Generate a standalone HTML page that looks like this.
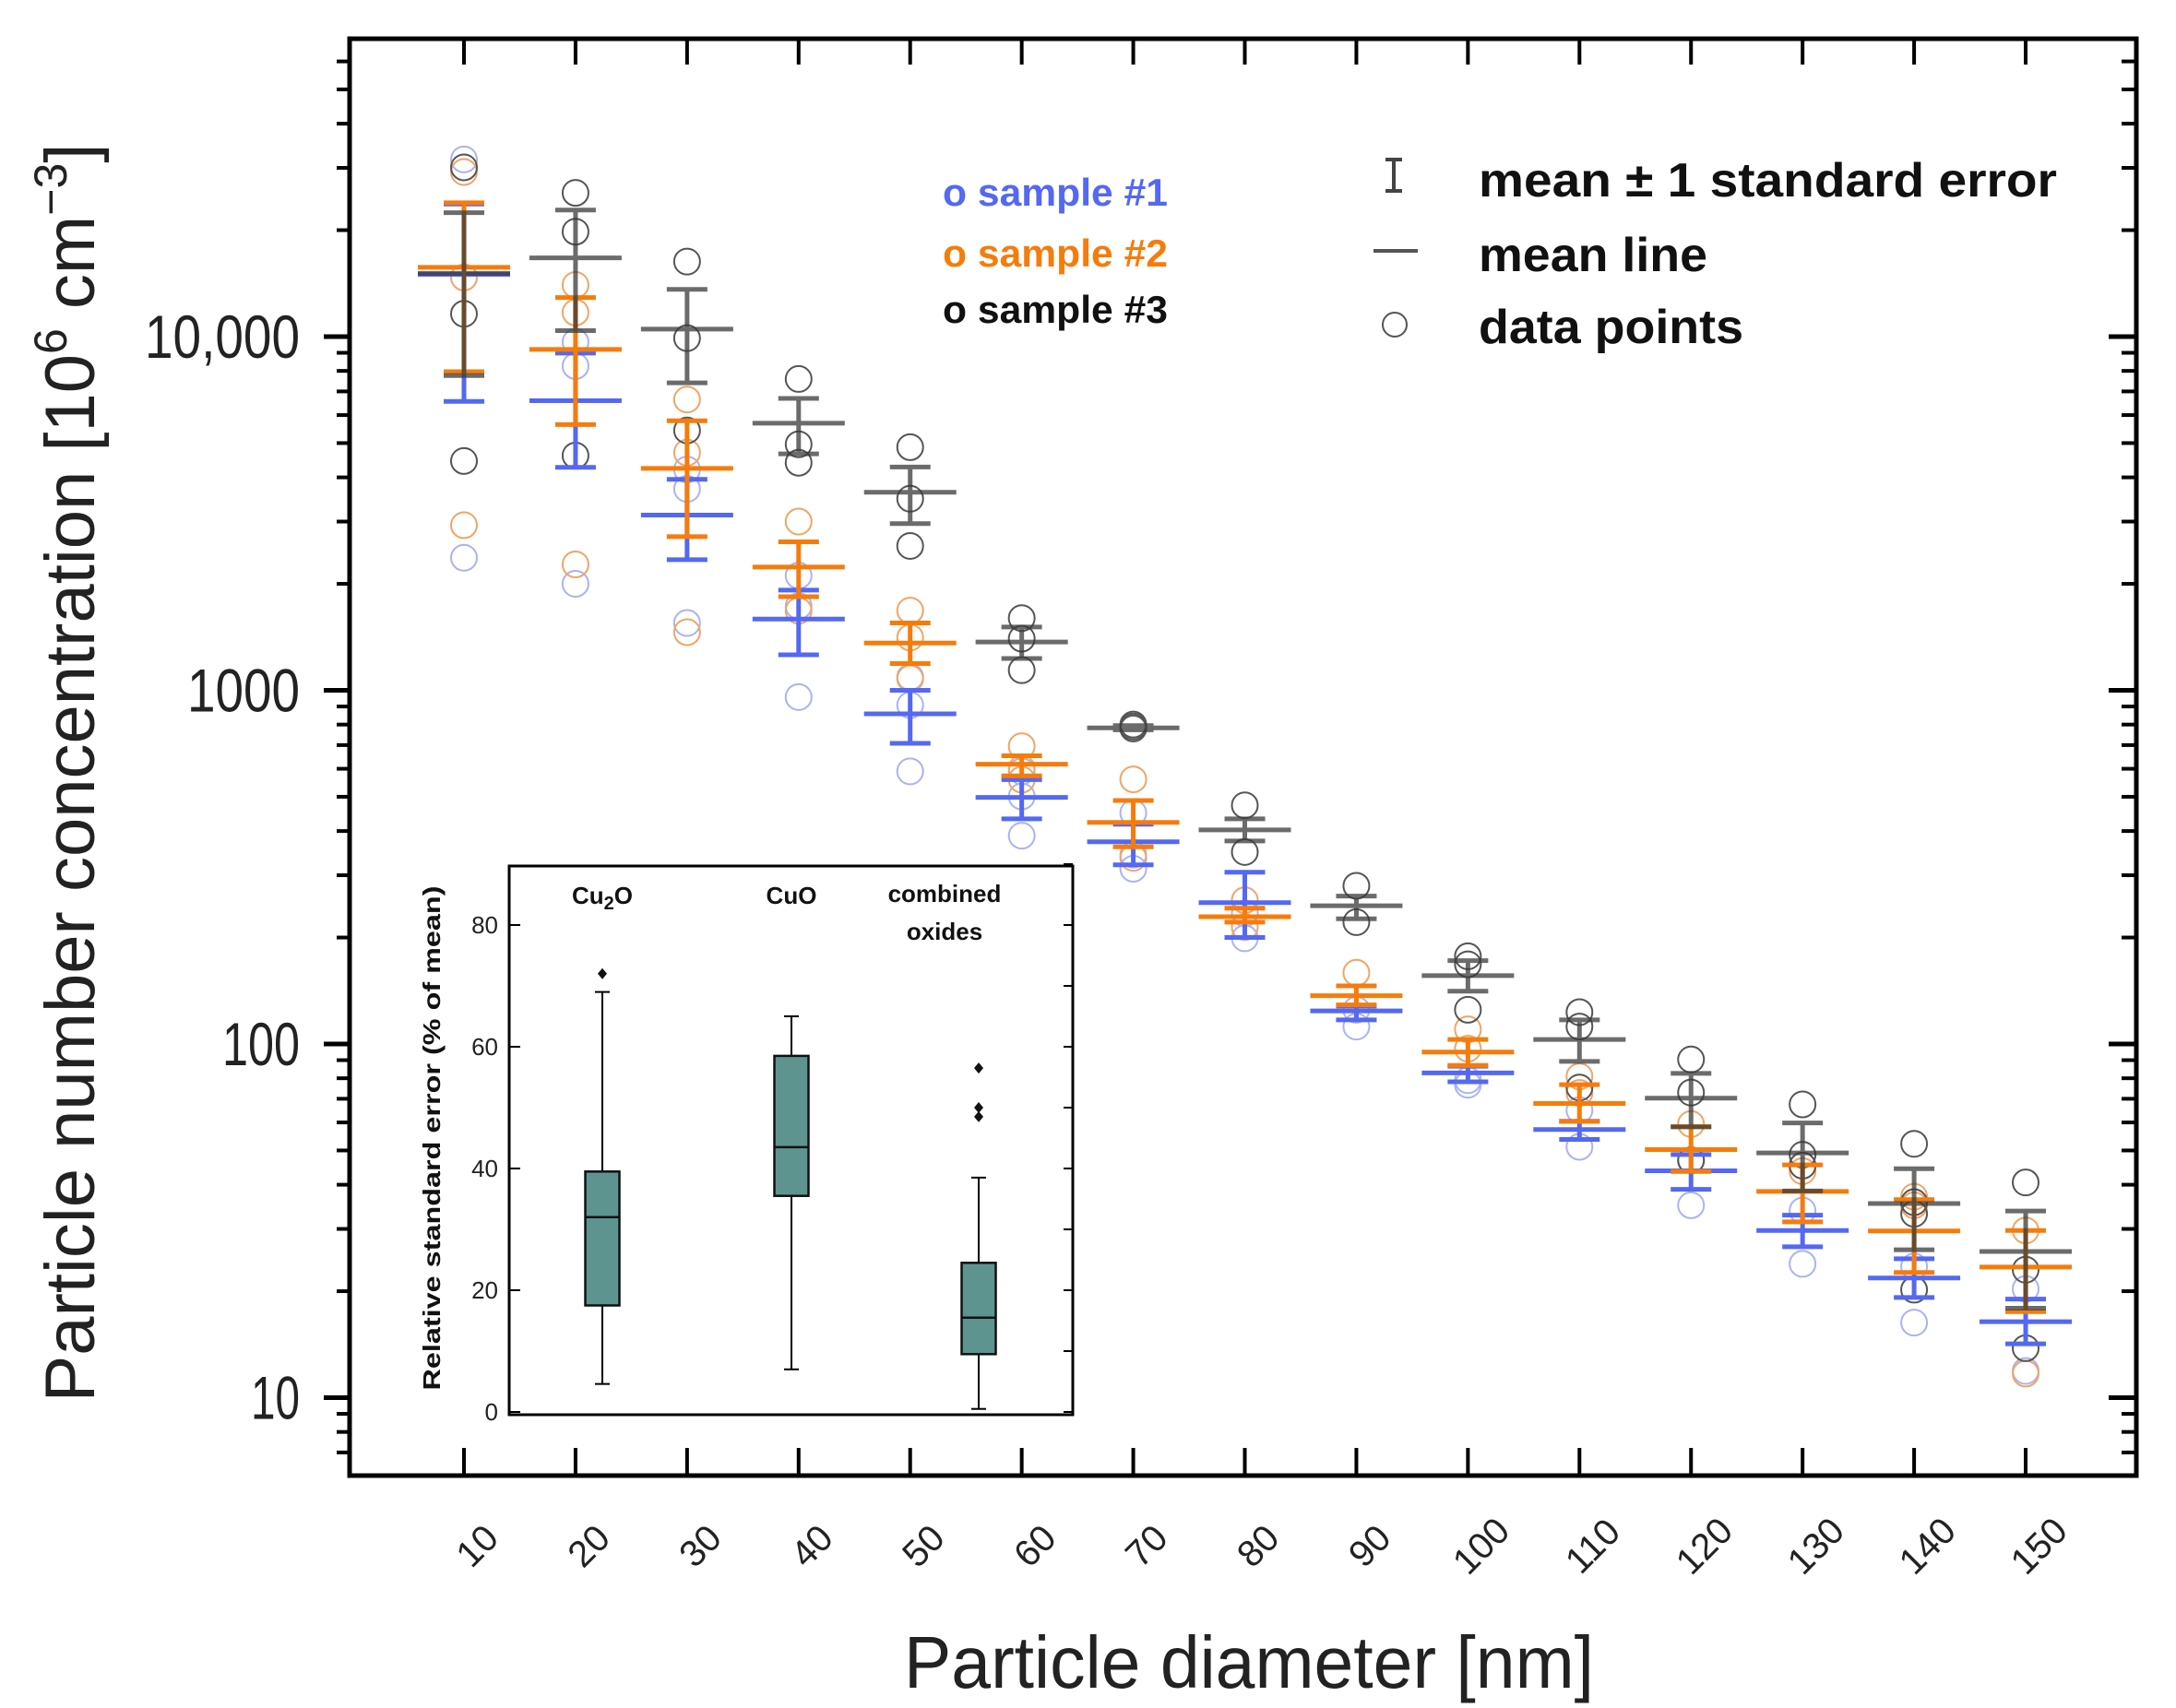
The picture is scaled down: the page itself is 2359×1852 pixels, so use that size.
<!DOCTYPE html>
<html><head><meta charset="utf-8"><style>
html,body{margin:0;padding:0;background:#fff;}
svg{display:block;}
</style></head><body>
<svg id="chart" width="2359" height="1852" viewBox="0 0 2359 1852" xmlns="http://www.w3.org/2000/svg" font-family="'Liberation Sans', sans-serif">
<g id="grid"></g>
<g id="marks"></g>
<g id="axes"></g>
<g id="inset"></g>
<g id="legend"></g>
</svg>
<script>
// ---------- main chart data ----------
const diameters = [10,20,30,40,50,60,70,80,90,100,110,120,130,140,150];
const s1Mean = [15000,6590,3130,1590,858,498,373,251,124,82.8,57.3,43.8,29.7,21.8,16.4];
const s1Hi   = [23700,8980,3950,1920,1000,559,418,306,128,86.5,60.5,48.7,32.8,24.7,19.0];
const s1Lo   = [6560,4270,2340,1260,708,433,321,200,117,78.2,53.7,38.8,26.7,19.2,14.2];
const s1Pts  = [[31700,2370],[9650,8260,2000],[4210,3710,1550],[2110,1730,957],[1090,908,590],[590,501,388],[343,313,450],[234,199],[125,112],[79,76.7],[65,51.2],[46.9,35.0],[33.8,23.9],[23.5,16.3],[20.3,11.9]];
const s2Mean = [15700,9200,4240,2230,1360,618,423,229,137,94.9,67.9,50.3,38.3,29.6,23.4];
const s2Hi   = [23900,12900,5780,2630,1550,653,488,242,146,103,76.7,58.4,45.5,36.3,29.7];
const s2Lo   = [7960,5640,2720,1840,1190,573,361,221,129,87,60.4,43.6,31.4,22.6,17.5];
const s2Pts  = [[29200,2930,14700],[14000,11700,2270],[6640,4700,1460],[3000,1680],[1680,1410,1080],[695,601,559],[560,336],[255,214],[159],[110,97],[81,72.7],[59.4,46.9],[45.3,43.7],[37.0,35.0],[29.7,11.7]];
const s3Mean = [15100,16700,10500,5690,3630,1370,783,403,246,156,103,70.3,49.2,35.4,25.9];
const s3Hi   = [22400,22800,13600,6690,4280,1510,795,433,262,172,117,82.6,59.8,44.4,33.7];
const s3Lo   = [7760,10400,7400,4660,2960,1230,773,375,226,141,89.3,58.3,38.4,26.2,17.9];
const s3Pts  = [[30100,11600,4450],[25500,19800,4610],[16300,9900,5430],[7590,4960,4400],[4870,3480,2560],[1600,1400,1140],[780,790,800],[473,349],[280,221],[177,168,125],[123,112,75.3],[90.4,72.9,46.9],[67.5,48.6,45.3],[52.2,35.7,33.1,20.2],[40.6,23.0,13.8]];
const yTickVals = [10,100,1000,10000];
const yTickLabels = ["10","100","1000","10,000"];

// ---------- inset data ----------
const insetCats = ["Cu2O","CuO","combined oxides"];
const boxWhiskLo = [4.6,7,0.5];
const boxQ1 = [17.5,35.5,9.5];
const boxMed = [32,43.5,15.5];
const boxQ3 = [39.5,58.5,24.5];
const boxWhiskHi = [69,65,38.5];
const boxOutliers = [[72],[],[56.5,50,48.5]];
const insetTicks = [0,20,40,60,80];

const NS = "http://www.w3.org/2000/svg";
function mk(tag, attrs, parent){
  const e = document.createElementNS(NS, tag);
  for (const k in attrs) e.setAttribute(k, attrs[k]);
  parent.appendChild(e);
  return e;
}
const L=379, R=2316, T=42, B=1600;
const X0=503, DX=120.93;
function xs(d){ return X0 + (d-10)/10*DX; }
const Y10000=365, DEC=383.5;
function ys(v){ return Y10000 - (Math.log10(v)-4)*DEC; }

const marks = document.getElementById('marks');
const axes = document.getElementById('axes');

const series = [
  {name:'sample-1', mean:s1Mean, hi:s1Hi, lo:s1Lo, pts:s1Pts, col:'#5468f2', pc:'#aab3f3', op:1},
  {name:'sample-2', mean:s2Mean, hi:s2Hi, lo:s2Lo, pts:s2Pts, col:'#f57c0c', pc:'#f0a565', op:1},
  {name:'sample-3', mean:s3Mean, hi:s3Hi, lo:s3Lo, pts:s3Pts, col:'#3a3a3a', pc:'#555555', op:0.75}
];
series.forEach(s=>{
  const g = mk('g',{},marks);
  
  
  s.pts.forEach((arr,i)=>{
    arr.forEach(v=>{
      const c = mk('circle',{cx:xs(diameters[i]),cy:ys(v),r:14,fill:'none',stroke:s.pc,'stroke-width':2},g);
      
      
    });
  });
});
series.forEach(s=>{
  const g = mk('g',{opacity:s.op},marks);
  
  
  diameters.forEach((d,i)=>{
    const x = xs(d);
    const bar = mk('path',{d:`M${x},${ys(s.hi[i])}V${ys(s.lo[i])}M${x-22},${ys(s.hi[i])}H${x+22}M${x-22},${ys(s.lo[i])}H${x+22}`,stroke:s.col,'stroke-width':5,fill:'none'},g);
    
    
    const ml = mk('line',{x1:x-50,x2:x+50,y1:ys(s.mean[i]),y2:ys(s.mean[i]),stroke:s.col,'stroke-width':5},g);
    
    
  });
});

const frame = mk('rect',{x:L,y:T,width:R-L,height:B-T,fill:'none',stroke:'#000','stroke-width':5},axes);


diameters.forEach(d=>{
  const x = xs(d);
  mk('line',{x1:x,x2:x,y1:T,y2:T+28,stroke:'#000','stroke-width':4},axes);
  mk('line',{x1:x,x2:x,y1:B,y2:B-30,stroke:'#000','stroke-width':4},axes);
  const cy = 1676;
  const t = mk('text',{x:x+14,y:cy+14,'font-size':40,fill:'#222','text-anchor':'middle',transform:`rotate(-45 ${x+14} ${cy})`},axes);
  t.textContent = d;
  
  
});
for (let dec=0; dec<=4; dec++){
  for (let m=1; m<=9; m++){
    const v = m*Math.pow(10,dec);
    const y = ys(v);
    if (y < T+2 || y > B-2) continue;
    const major = m===1;
    mk('line',{x1:L-(major?28:14),x2:L,y1:y,y2:y,stroke:'#000','stroke-width':major?5:4},axes);
    mk('line',{x1:R,x2:R-(major?30:16),y1:y,y2:y,stroke:'#000','stroke-width':major?5:4},axes);
  }
}
const yLabW = {"10":53,"100":84,"1000":122,"10,000":168};
yTickVals.forEach((v,i)=>{
  const t = mk('text',{x:325,y:ys(v)+23,'font-size':66,fill:'#222','text-anchor':'end',textLength:yLabW[yTickLabels[i]],lengthAdjust:'spacingAndGlyphs'},axes);
  t.textContent = yTickLabels[i];
  
  
});
</script>
<script>
(function(){
const axes = document.getElementById('axes');
const NS="http://www.w3.org/2000/svg";
const xt = document.createElementNS(NS,'text');
xt.setAttribute('x',1354); xt.setAttribute('y',1830);
xt.setAttribute('font-size',80); xt.setAttribute('fill','#222'); xt.setAttribute('text-anchor','middle');
xt.setAttribute('textLength',748); xt.setAttribute('lengthAdjust','spacingAndGlyphs');
xt.textContent='Particle diameter [nm]';


axes.appendChild(xt);
const yt = document.createElementNS(NS,'text');
yt.setAttribute('transform','translate(102 838) rotate(-90)');
yt.setAttribute('font-size',76); yt.setAttribute('fill','#222'); yt.setAttribute('text-anchor','middle');
yt.innerHTML='Particle number concentration [10<tspan dy="-30" font-size="50">6</tspan><tspan dy="30"> cm</tspan><tspan dy="-30" font-size="50">−3</tspan><tspan dy="30">]</tspan>';


axes.appendChild(yt);
})();

(function(){
const g = document.getElementById('inset');
const NS="http://www.w3.org/2000/svg";
function mk(tag, attrs, parent){const e=document.createElementNS(NS,tag);for(const k in attrs)e.setAttribute(k,attrs[k]);parent.appendChild(e);return e;}
const IL=552, IR=1163, IT=939, IB=1534;
function iy(v){ return 1531 - v*6.6; }
const centers=[653,858,1061];
const bg = mk('rect',{x:IL,y:IT,width:IR-IL,height:IB-IT,fill:'#fff',stroke:'#000','stroke-width':3},g);


for(let v=0; v<=90; v+=10){
  const y=iy(v);
  if(v%20===0){ mk('line',{x1:IL,x2:IL+12,y1:y,y2:y,stroke:'#000','stroke-width':2},g); }
  mk('line',{x1:IR,x2:IR-10,y1:y,y2:y,stroke:'#000','stroke-width':2},g);
}
insetTicks.forEach(v=>{
  const t=mk('text',{x:540,y:iy(v)+9,'font-size':26,fill:'#222','text-anchor':'end'},g);
  t.textContent=v;
  
  
});
const yl=mk('text',{transform:'translate(477 1234) rotate(-90)','font-size':26,'font-weight':'bold',fill:'#111','text-anchor':'middle',textLength:547,lengthAdjust:'spacingAndGlyphs'},g);
yl.textContent='Relative standard error (% of mean)';


insetCats.forEach((c,i)=>{
  const x=centers[i], w=37;
  const bx=mk('g',{},g);
  
  
  mk('line',{x1:x,x2:x,y1:iy(boxWhiskLo[i]),y2:iy(boxWhiskHi[i]),stroke:'#000','stroke-width':2},bx);
  mk('line',{x1:x-8,x2:x+8,y1:iy(boxWhiskLo[i]),y2:iy(boxWhiskLo[i]),stroke:'#000','stroke-width':2},bx);
  mk('line',{x1:x-8,x2:x+8,y1:iy(boxWhiskHi[i]),y2:iy(boxWhiskHi[i]),stroke:'#000','stroke-width':2},bx);
  mk('rect',{x:x-w/2,y:iy(boxQ3[i]),width:w,height:iy(boxQ1[i])-iy(boxQ3[i]),fill:'#5e9490',stroke:'#111','stroke-width':2.5},bx);
  mk('line',{x1:x-w/2,x2:x+w/2,y1:iy(boxMed[i]),y2:iy(boxMed[i]),stroke:'#111','stroke-width':2.5},bx);
  boxOutliers[i].forEach(v=>{
    const o=mk('path',{d:`M${x},${iy(v)-6}L${x+5},${iy(v)}L${x},${iy(v)+6}L${x-5},${iy(v)}Z`,fill:'#111'},bx);
    
    
  });
});
const h1=mk('text',{x:653,y:980,'font-size':26,'font-weight':'bold',fill:'#111','text-anchor':'middle'},g);
h1.innerHTML='Cu<tspan dy="6" font-size="20">2</tspan><tspan dy="-6">O</tspan>';


const h2=mk('text',{x:858,y:980,'font-size':26,'font-weight':'bold',fill:'#111','text-anchor':'middle'},g);
h2.textContent='CuO';


const h3=mk('text',{x:1024,y:978,'font-size':26,'font-weight':'bold',fill:'#111','text-anchor':'middle'},g);
h3.textContent='combined';


const h4=mk('text',{x:1024,y:1019,'font-size':26,'font-weight':'bold',fill:'#111','text-anchor':'middle'},g);
h4.textContent='oxides';


})();

(function(){
const g=document.getElementById('legend');
const NS="http://www.w3.org/2000/svg";
function mk(tag, attrs, parent){const e=document.createElementNS(NS,tag);for(const k in attrs)e.setAttribute(k,attrs[k]);parent.appendChild(e);return e;}
const items=[['o sample #1','#5468f2',223],['o sample #2','#f57c0c',289],['o sample #3','#111',350]];
items.forEach((it,i)=>{
  const t=mk('text',{x:1022,y:it[2],'font-size':42,'font-weight':'bold',fill:it[1],textLength:244,lengthAdjust:'spacingAndGlyphs'},g);
  t.textContent=it[0];
  
  
});
const e1=mk('path',{d:'M1511,173V207M1502,173H1520M1502,207H1520',stroke:'#444','stroke-width':4,fill:'none'},g);


const e2=mk('line',{x1:1489,x2:1537,y1:272,y2:272,stroke:'#555','stroke-width':4},g);


const e3=mk('circle',{cx:1512,cy:352,r:13,fill:'none',stroke:'#555','stroke-width':2},g);


const texts=[['mean ± 1 standard error',213,627],['mean line',294,248],['data points',372,287]];
texts.forEach((t,i)=>{
  const el=mk('text',{x:1603,y:t[1],'font-size':52,'font-weight':'bold',fill:'#111',textLength:t[2],lengthAdjust:'spacingAndGlyphs'},g);
  el.textContent=t[0];
  
  
});
})();
</script>
</body></html>
